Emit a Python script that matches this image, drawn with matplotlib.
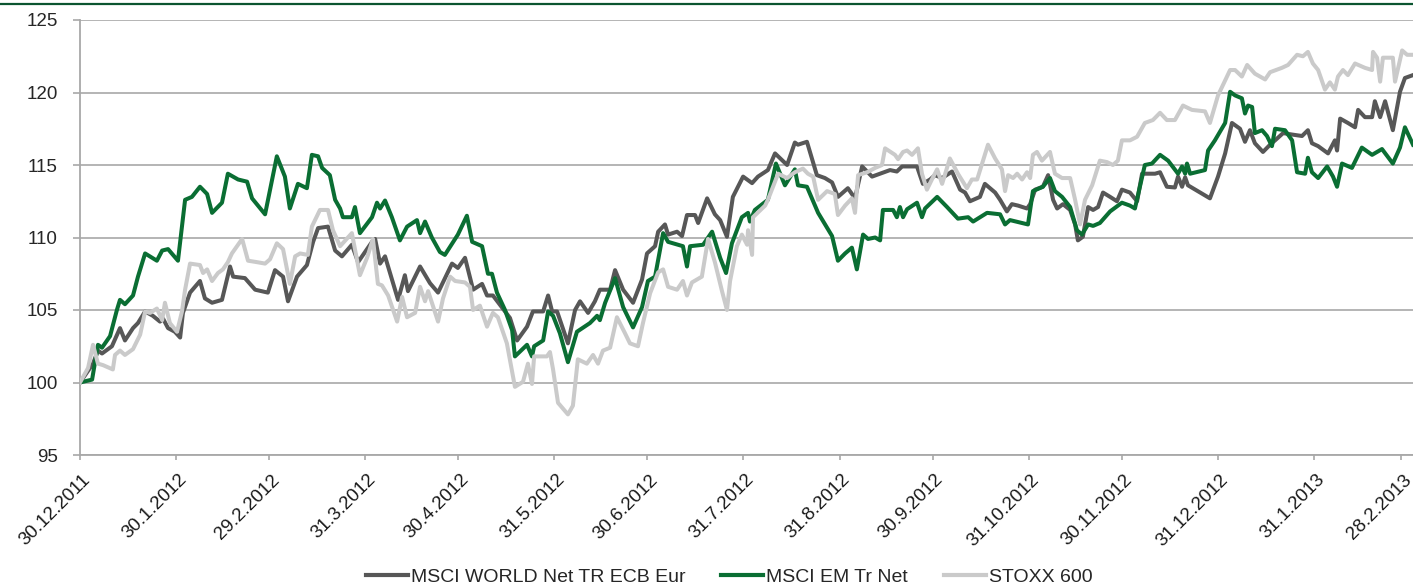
import numpy as np
import pandas as pd
import matplotlib
matplotlib.use("Agg")
import matplotlib.pyplot as plt
from matplotlib.lines import Line2D
from matplotlib.transforms import ScaledTranslation

plt.rcParams['font.family'] = ['Liberation Sans', 'DejaVu Sans']

# ---------------- data ----------------
start_date = "2011-12-30"
tick_labels = ["30.12.2011", "30.1.2012", "29.2.2012", "31.3.2012", "30.4.2012",
               "31.5.2012", "30.6.2012", "31.7.2012", "31.8.2012", "30.9.2012",
               "31.10.2012", "30.11.2012", "31.12.2012", "31.1.2013", "28.2.2013"]
series_names = ["MSCI WORLD Net TR ECB Eur", "MSCI EM Tr Net", "STOXX 600"]

# days since 30.12.2011 and index values
world_days = [0, 4.2, 5.8, 7.1, 10.3, 12.9, 14.5, 17.1, 18.7, 21.0, 23.5, 25.8, 26.8, 28.4, 30.6, 32.3,
              33.2, 35.5, 38.7, 40.3, 42.6, 45.8, 48.4, 49.4, 53.2, 56.5, 60.6, 62.9, 65.5, 67.1, 70.0,
              73.2, 75.2, 76.8, 80.0, 82.3, 84.5, 87.7, 89.7, 94.2, 95.2, 96.8, 98.4, 102.6, 104.8, 105.8,
              109.7, 112.9, 115.5, 120.0, 121.9, 124.2, 126.8, 129.7, 131.3, 133.2, 138.7, 141.0, 144.2,
              146.1, 149.4, 151.0, 152.3, 153.9, 157.4, 159.7, 161.3, 163.9, 166.1, 167.7, 171.0, 172.6,
              175.2, 178.4, 181.3, 182.9, 185.5, 186.5, 188.7, 189.7, 192.6, 194.2, 195.8, 198.4, 199.4,
              202.3, 204.8, 206.5, 208.7, 210.6, 213.9, 216.8, 218.7, 221.9, 224.2, 228.1, 230.6, 231.6,
              234.5, 237.7, 240.3, 242.6, 244.5, 247.7, 250.0, 252.3, 255.5, 258.1, 261.3, 263.5, 265.2,
              270.0, 271.9, 274.2, 275.8, 278.1, 281.3, 283.9, 285.5, 287.1, 290.3, 291.9, 295.2, 296.8,
              299.0, 300.6, 302.6, 305.5, 306.5, 308.1, 310.6, 312.3, 313.9, 315.2, 317.1, 319.4, 321.0,
              321.9, 323.5, 325.2, 326.8, 328.4, 330.0, 332.3, 334.5, 336.1, 338.7, 341.0, 342.6, 346.8,
              348.4, 350.6, 353.2, 354.2, 355.5, 356.5, 357.4, 364.5, 367.1, 369.4, 371.6, 374.2, 375.8,
              377.4, 379.0, 381.6, 383.9, 385.5, 388.1, 391.0, 394.2, 396.1, 397.4, 399.4, 402.6, 404.8,
              405.5, 406.5, 409.0, 411.3, 412.3, 414.5, 416.8, 417.7, 419.4, 421.0, 423.5, 425.8, 427.4,
              430.0]
world_vals = [100, 101.3, 102.2, 102.0, 102.5, 103.75, 102.9, 103.75, 104.1, 104.9, 104.6, 104.2, 104.4,
              103.75, 103.5, 103.1, 104.8, 106.2, 107.0, 105.8, 105.5, 105.7, 108.0, 107.3, 107.2, 106.4,
              106.2, 107.75, 107.3, 105.6, 107.3, 108.1, 109.7, 110.65, 110.75, 109.1, 108.7, 109.5, 108.3,
              109.7, 109.9, 108.2, 108.7, 105.7, 107.4, 106.3, 108.0, 106.85, 106.2, 108.2, 107.9, 108.6,
              106.4, 106.8, 106.0, 106.0, 104.45, 102.9, 103.85, 104.9, 104.9, 106.0, 104.9, 104.9, 102.7,
              105.0, 105.6, 104.8, 105.6, 106.4, 106.4, 107.75, 106.4, 105.5, 107.1, 108.9, 109.4, 110.4,
              110.9, 110.2, 110.4, 110.1, 111.55, 111.55, 111.0, 112.7, 111.6, 111.2, 110.05, 112.8, 114.2,
              113.75, 114.2, 114.65, 115.8, 115.0, 116.55, 116.4, 116.6, 114.3, 114.1, 113.8, 112.8, 113.4,
              112.7, 114.9, 114.2, 114.4, 114.65, 114.55, 114.9, 114.9, 113.7, 114.0, 114.3, 114.1, 114.55,
              113.3, 113.1, 112.5, 112.8, 113.7, 113.1, 112.6, 111.8, 112.3, 112.2, 112.0, 112.3, 113.3,
              113.5, 114.3, 112.6, 112.0, 112.3, 111.9, 110.9, 109.8, 110.05, 112.1, 111.9, 112.1, 113.1,
              112.8, 112.5, 113.3, 113.1, 112.5, 114.4, 114.4, 114.5, 113.5, 113.45, 114.2, 113.5, 114.15,
              113.6, 112.7, 114.2, 115.8, 117.9, 117.5, 116.6, 117.4, 116.5, 115.9, 116.4, 116.7, 117.2,
              117.1, 117.0, 117.4, 116.5, 116.3, 115.8, 116.7, 116.0, 118.2, 117.9, 117.6, 118.8, 118.3,
              118.3, 119.4, 118.3, 119.4, 117.4, 120.05, 121.0, 121.2]

em_days = [0, 3.9, 5.8, 7.1, 9.7, 11.9, 12.9, 14.5, 17.1, 18.7, 21.0, 24.8, 26.5, 28.4, 31.6, 33.9, 36.1,
           38.7, 41.0, 42.6, 45.8, 47.7, 51.0, 53.9, 55.5, 59.7, 63.5, 66.1, 67.7, 70.3, 73.2, 74.8, 76.8,
           78.1, 80.6, 82.3, 83.9, 84.8, 87.7, 88.7, 90.3, 94.2, 95.8, 96.8, 98.4, 100.6, 103.2, 105.5,
           108.7, 109.7, 111.3, 113.5, 116.1, 117.7, 121.9, 124.8, 126.5, 129.7, 131.6, 132.9, 134.5,
           137.1, 139.4, 140.3, 144.2, 145.8, 146.5, 149.4, 151.0, 152.6, 154.8, 157.4, 160.3, 164.5,
           166.8, 167.7, 169.4, 172.6, 175.2, 178.4, 181.3, 183.2, 185.5, 188.1, 189.7, 194.5, 195.8,
           196.8, 201.0, 203.9, 206.5, 208.4, 210.3, 213.5, 215.5, 216.1, 217.7, 221.9, 224.5, 227.4,
           230.6, 231.6, 234.5, 238.1, 242.6, 244.5, 246.8, 249.0, 250.6, 252.6, 254.2, 256.5, 258.1,
           259.0, 262.3, 263.5, 264.5, 265.5, 266.8, 270.0, 271.6, 272.6, 276.5, 279.7, 283.2, 286.5,
           288.1, 292.6, 296.8, 298.4, 300.0, 305.8, 307.4, 310.6, 312.9, 314.5, 316.8, 319.4, 321.6,
           323.2, 325.2, 326.8, 329.0, 332.3, 336.1, 338.7, 340.3, 343.5, 345.8, 348.4, 351.0, 354.2,
           355.5, 356.5, 357.1, 358.1, 362.9, 363.9, 366.1, 369.4, 371.0, 372.6, 374.8, 375.8, 376.8,
           378.1, 379.0, 381.3, 382.9, 384.5, 385.5, 388.7, 391.0, 392.6, 395.2, 396.1, 397.4, 399.4,
           402.3, 404.2, 405.5, 407.1, 410.3, 413.5, 416.8, 420.0, 423.5, 425.8, 427.4, 430.0]
em_vals = [100, 100.2, 102.6, 102.4, 103.2, 105.0, 105.7, 105.4, 106.0, 107.3, 108.9, 108.4, 109.1, 109.2,
           108.4, 112.6, 112.8, 113.5, 113.0, 111.7, 112.4, 114.4, 114.0, 113.85, 112.7, 111.6, 115.6,
           114.2, 112.0, 113.7, 113.4, 115.7, 115.6, 114.8, 114.3, 112.6, 112.0, 111.4, 111.4, 112.1,
           110.3, 111.4, 112.4, 112.0, 112.55, 111.4, 109.8, 110.75, 111.2, 110.3, 111.1, 110.0, 109.0,
           108.8, 110.2, 111.5, 109.7, 109.4, 107.5, 107.5, 106.2, 105.0, 103.6, 101.8, 102.6, 101.8,
           102.5, 102.9, 104.9, 104.6, 103.4, 101.4, 103.5, 104.1, 104.6, 104.3, 105.5, 107.2, 105.2,
           103.8, 105.2, 107.0, 107.3, 110.3, 109.7, 109.4, 108.0, 109.4, 109.5, 110.4, 108.6, 107.55,
           109.6, 111.4, 111.7, 111.1, 111.9, 112.6, 115.1, 113.6, 114.7, 113.6, 113.5, 111.7, 110.1,
           108.4, 108.9, 109.3, 107.8, 110.2, 109.9, 110.0, 109.8, 111.9, 111.9, 111.4, 112.1, 111.4,
           111.95, 112.4, 111.4, 112.0, 112.8, 112.1, 111.3, 111.4, 111.1, 111.7, 111.6, 110.9, 111.2,
           110.9, 113.2, 113.5, 114.1, 113.2, 112.8, 112.1, 110.5, 110.2, 110.9, 110.8, 111.0, 111.8,
           112.4, 112.2, 112.0, 115.0, 115.1, 115.7, 115.3, 114.4, 114.9, 114.4, 115.1, 114.4, 114.65,
           116.0, 116.7, 117.9, 120.05, 119.8, 119.6, 118.55, 119.1, 119.0, 117.2, 117.4, 117.0, 116.3,
           117.5, 117.4, 116.7, 114.5, 114.4, 115.5, 114.5, 114.1, 114.9, 114.2, 113.5, 115.1, 114.8,
           116.2, 115.7, 116.1, 115.1, 116.2, 117.6, 116.4]

stoxx_days = [0, 2.6, 4.2, 5.8, 7.4, 10.6, 11.3, 12.9, 14.5, 17.1, 19.4, 21.0, 22.6, 24.8, 26.5, 27.4,
              29.0, 31.3, 32.9, 33.9, 35.5, 38.7, 39.7, 41.0, 42.6, 44.5, 46.1, 47.7, 49.0, 52.3, 54.2,
              57.1, 59.7, 61.3, 63.5, 65.5, 67.7, 69.4, 71.0, 73.5, 74.8, 77.4, 80.0, 81.6, 83.9, 87.7,
              90.3, 92.6, 94.5, 96.1, 97.4, 99.4, 102.3, 103.9, 105.5, 108.1, 109.7, 111.3, 112.3, 115.5,
              117.1, 119.4, 121.0, 124.2, 125.8, 126.8, 129.0, 131.3, 133.2, 134.8, 137.7, 140.3, 142.9,
              144.5, 145.8, 146.5, 150.6, 151.6, 152.6, 154.2, 157.4, 159.0, 160.6, 163.5, 165.5, 167.1,
              168.7, 171.0, 173.2, 175.8, 177.4, 180.0, 181.6, 183.9, 186.5, 188.1, 189.7, 192.6, 194.5,
              195.8, 197.4, 200.6, 202.6, 204.8, 207.1, 208.7, 209.7, 211.9, 213.5, 215.2, 215.5, 216.8,
              217.1, 221.0, 221.9, 225.2, 228.1, 230.6, 233.2, 234.8, 236.5, 238.1, 241.0, 243.5, 244.5,
              246.8, 249.0, 250.0, 251.0, 253.9, 256.5, 258.7, 259.7, 262.9, 263.9, 265.5, 266.8, 268.4,
              270.3, 271.6, 273.2, 274.8, 276.5, 278.1, 280.6, 283.2, 286.1, 287.7, 289.4, 291.0, 292.9,
              295.2, 297.4, 298.4, 299.4, 301.0, 302.3, 303.9, 305.5, 306.5, 307.4, 308.7, 310.3, 312.9,
              314.5, 316.8, 319.4, 321.0, 322.6, 324.2, 326.5, 329.0, 331.3, 333.2, 334.8, 336.1, 338.7,
              341.0, 343.5, 346.1, 348.4, 350.6, 353.2, 355.8, 358.7, 362.9, 364.5, 367.1, 371.0, 372.6,
              374.8, 376.5, 379.0, 382.3, 383.9, 387.7, 389.7, 392.6, 394.5, 396.1, 397.7, 399.4, 401.6,
              403.2, 404.8, 405.8, 407.4, 409.0, 411.3, 414.5, 416.8, 417.1, 418.4, 419.4, 420.3, 423.5,
              424.2, 426.5, 428.1, 430.0]
stoxx_vals = [100, 101.0, 102.6, 101.3, 101.2, 100.9, 101.9, 102.2, 101.9, 102.3, 103.3, 104.9, 104.8,
              105.1, 104.3, 105.5, 104.1, 103.5, 104.9, 106.4, 108.2, 108.1, 107.55, 107.8, 107.0, 107.55,
              107.8, 108.3, 108.9, 109.9, 108.4, 108.3, 108.2, 108.5, 109.6, 109.2, 106.8, 108.7, 108.9,
              108.8, 110.75, 111.9, 111.9, 110.5, 109.4, 110.3, 107.4, 108.6, 109.9, 106.8, 106.7, 106.0,
              104.2, 105.9, 104.5, 104.8, 106.6, 105.6, 106.3, 104.2, 105.8, 107.3, 107.0, 106.9, 106.6,
              105.0, 105.3, 103.85, 104.8, 104.5, 102.7, 99.7, 100.05, 101.3, 99.9, 101.8, 101.8, 102.1,
              100.9, 98.6, 97.8, 98.4, 101.6, 101.3, 101.9, 101.3, 102.2, 102.4, 104.5, 103.4, 102.7,
              102.5, 104.1, 106.15, 107.6, 107.8, 106.6, 106.4, 107.0, 106.0, 106.9, 107.3, 109.9, 108.3,
              106.3, 105.0, 107.0, 109.4, 110.2, 109.5, 110.5, 108.8, 111.4, 112.2, 112.6, 114.4, 114.1,
              114.5, 114.75, 114.4, 114.2, 112.6, 113.2, 113.0, 111.55, 112.2, 112.7, 111.7, 114.3, 114.5,
              114.8, 115.0, 116.15, 115.7, 115.4, 115.9, 116.0, 115.7, 116.15, 114.4, 113.3, 114.0, 114.7,
              113.7, 115.45, 114.4, 113.4, 114.0, 114.0, 115.1, 116.4, 115.45, 114.7, 113.2, 114.3, 114.1,
              114.4, 114.0, 114.5, 114.1, 115.7, 115.9, 115.3, 115.9, 114.4, 114.1, 114.1, 112.6, 110.9,
              112.6, 113.6, 115.3, 115.2, 115.0, 115.3, 116.7, 116.7, 116.95, 117.9, 118.1, 118.6, 118.1,
              118.1, 119.1, 118.8, 118.7, 117.9, 119.8, 121.55, 121.55, 121.1, 121.9, 121.3, 120.9, 121.4,
              121.7, 121.9, 122.6, 122.5, 122.8, 122.0, 121.55, 120.2, 120.7, 120.2, 121.1, 121.55, 121.2,
              122.0, 121.7, 121.55, 122.8, 122.4, 120.75, 122.4, 122.4, 120.75, 122.9, 122.6, 122.6]

y_ticks = [95, 100, 105, 110, 115, 120, 125]
x_end_days = 430

# ---------------- figure ----------------
W, H, DPI = 1413, 586, 100
fig = plt.figure(figsize=(W / DPI, H / DPI), dpi=DPI)
fig.patch.set_facecolor("white")

ax_left = 80 / W
ax_bottom = 1 - 455 / H
ax_top = 1 - 20 / H
ax = fig.add_axes([ax_left, ax_bottom, 1 - ax_left, ax_top - ax_bottom])

t0 = pd.Timestamp(start_date)
def to_dates(days):
    return t0 + pd.to_timedelta(np.asarray(days, dtype=float), unit="D")

c_world = "#575757"
c_em = "#0a6e33"
c_stoxx = "#cacaca"
lw = 2.9

ax.plot(to_dates(world_days), world_vals, color=c_world, lw=lw, label=series_names[0],
        solid_joinstyle="round", zorder=3)
ax.plot(to_dates(em_days), em_vals, color=c_em, lw=lw, label=series_names[1],
        solid_joinstyle="round", zorder=4)
ax.plot(to_dates(stoxx_days), stoxx_vals, color=c_stoxx, lw=lw, label=series_names[2],
        solid_joinstyle="round", zorder=5)

ax.set_ylim(95, 125)
ax.set_yticks(y_ticks)
ax.set_xlim(t0, t0 + pd.Timedelta(days=x_end_days))

tick_dates = pd.to_datetime(tick_labels, format="%d.%m.%Y")
ax.set_xticks(tick_dates)
ax.set_xticklabels(tick_labels)

grid_c = "#a8a8a8"
ax.grid(axis="y", color=grid_c, lw=1.2, zorder=1)
ax.set_axisbelow(True)
for s in ["top", "right"]:
    ax.spines[s].set_visible(False)
for s in ["left", "bottom"]:
    ax.spines[s].set_color(grid_c)
    ax.spines[s].set_linewidth(1.3)

ax.tick_params(axis="y", length=5, width=1.2, color=grid_c, pad=11,
               labelsize=13.5, labelcolor="#262626")
ax.tick_params(axis="x", length=3.6, width=1.2, color=grid_c, pad=8,
               labelsize=13.5, labelcolor="#1a1a1a")
offset = ScaledTranslation(2 / DPI, 0, fig.dpi_scale_trans)
for lbl in ax.get_xticklabels():
    lbl.set_rotation(45)
    lbl.set_ha("right")
    lbl.set_va("top")
    lbl.set_rotation_mode("anchor")
    lbl.set_transform(lbl.get_transform() + offset)

# top decorative line
fig.add_artist(Line2D([0, 1], [1 - 3.5 / H, 1 - 3.5 / H], transform=fig.transFigure,
                      color="#0b5530", lw=1.6))

handles = [Line2D([], [], color=c, lw=3.0) for c in (c_world, c_em, c_stoxx)]
fig.legend(handles, series_names, loc="center", bbox_to_anchor=(0.516, 1 - 577 / H),
           ncol=3, frameon=False, fontsize=14, handlelength=2.15, handletextpad=0.15,
           columnspacing=1.85, borderpad=0, borderaxespad=0, labelcolor="#262626")

fig.savefig("out.png", dpi=DPI, facecolor="white")
